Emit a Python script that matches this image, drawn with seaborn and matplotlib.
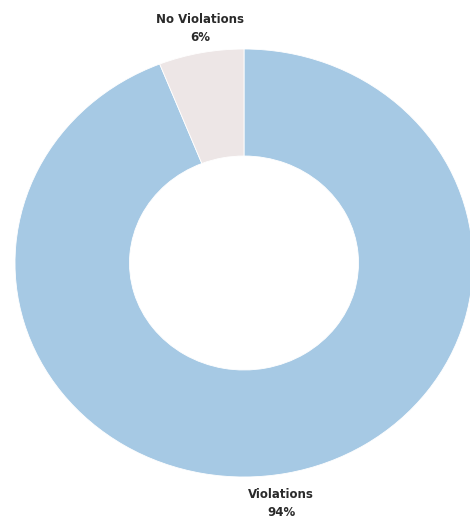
import matplotlib
matplotlib.use("Agg")
import matplotlib.pyplot as plt
import seaborn as sns

# Share of inspections with and without violations
categories = ["Violations", "No Violations"]
shares = [94, 6]
colors = ["#a6c9e4", "#ede6e6"]

sns.set_theme(style="white")
plt.rcParams["font.family"] = ["DejaVu Sans"]

W, H = 470, 519
fig = plt.figure(figsize=(W / 100, H / 100), dpi=100)
fig.patch.set_facecolor("white")
ax = fig.add_axes([0, 0, 1, 1])

ax.pie(
    shares,
    colors=colors,
    startangle=90,
    counterclock=False,
    radius=1.0,
    wedgeprops=dict(width=0.5, edgecolor="white", linewidth=0.6),
)

# Ring centre and radii in pixels (slightly wider than tall)
cx, cy = 244, 263
rx, ry = 229, 214
ax.set_aspect("auto")
ax.set_xlim(-cx / rx, (W - cx) / rx)
ax.set_ylim(-(H - cy) / ry, cy / ry)
ax.axis("off")

label_pos = {"No Violations": (200, 28.5), "Violations": (281, 503.5)}
for name, val in zip(categories, shares):
    px, py = label_pos[name]
    fig.text(px / W, 1 - py / H, f"{name}\n{val}%", ha="center", va="center",
             multialignment="center", fontsize=8.5, fontweight="bold",
             color="#2a2a2a", linespacing=1.45)

fig.savefig("out.png", dpi=100, facecolor="white")
